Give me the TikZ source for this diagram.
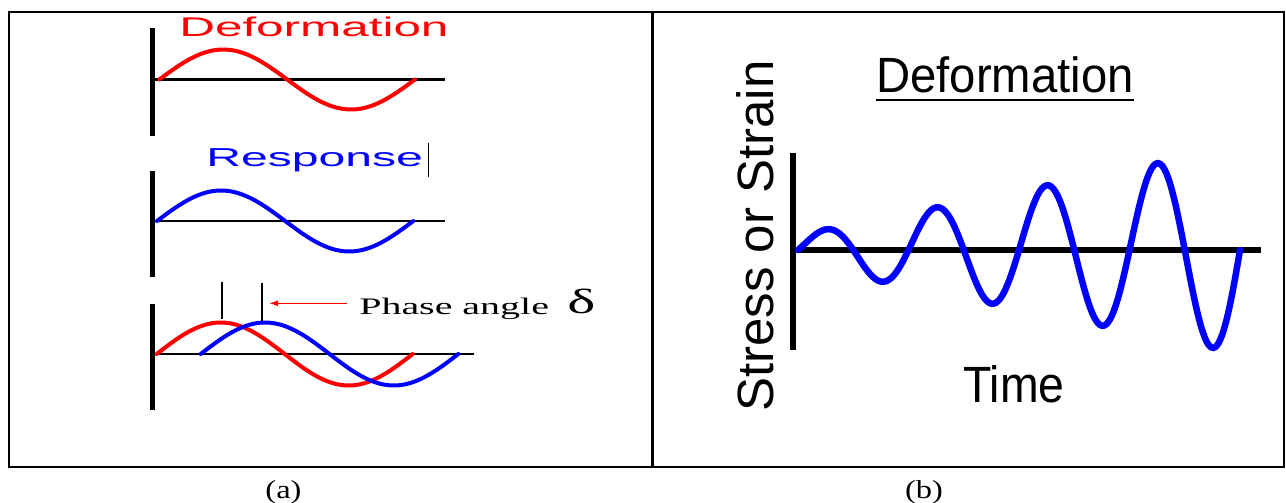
\documentclass[tikz,border=0pt]{standalone}
\usepackage{fontspec}
\usepackage{xcolor}
\usepackage{tikz}
\usetikzlibrary{arrows.meta, positioning, calc}
\newfontfamily\arialfont{Liberation Sans}
\newfontfamily\timesfont{Liberation Serif}
\definecolor{defred}{RGB}{255,0,0}
\definecolor{respblue}{RGB}{0,0,255}
\tikzset{
  lbl/.style={inner sep=0pt, anchor=base west},
  redlbl/.style={lbl, text=defred, xscale=1.83,
    font=\arialfont\fontsize{27}{27}\selectfont},
  bluelbl/.style={lbl, text=respblue, xscale=1.85,
    font=\arialfont\fontsize{26}{26}\selectfont},
  bigsans/.style={lbl, font=\arialfont\fontsize{51}{51}\selectfont},
  caption/.style={inner sep=0pt, anchor=base, xscale=1.25,
    font=\timesfont\fontsize{26}{26}\selectfont},
  frame/.style={line width=2.5pt, black},
  yaxis/.style={line width=5.5pt, black},
  xaxis/.style={line width=2.2pt, black},
  wave/.style={line width=4pt, smooth, samples=70, line cap=round},
  bigaxis/.style={line width=6.5pt, black},
  tick/.style={line width=2pt, black},
  phasearrow/.style={-{Latex[length=9pt, width=6pt]}, line width=1.4pt, color=defred},
}
\begin{document}
\begin{tikzpicture}[x=1pt, y=-1pt]
  \useasboundingbox (0,0) rectangle (1286,503);

  % table frame
  \draw[frame] (9,12) rectangle (1284,467);
  \draw[frame] (652.5,12) -- (652.5,467);
  \node[caption] (capA) at (283.5,498) {(a)};
  \node[caption] (capB) at (924,498) {(b)};

  % (a) axes
  \foreach \top/\mid/\bot/\right in {28/79.5/136/445, 170.7/221/276.7/445, 304/354/410/474} {
    \draw[yaxis] (152.7,\top) -- (152.7,\bot);
    \draw[xaxis] (152.7,\mid) -- (\right,\mid);
  }

  \node[redlbl] (defA) at (179,36.7) {Deformation};
  \draw[wave, defred, domain=159.3:415]
    plot (\x, {79.5 - 30*sin((\x-159.3)/255.7*360)});

  \node[bluelbl] (respA) at (206,166.7) {Response};
  \draw[line width=1pt] (428.3,142.7) -- (428.3,177.3);
  \draw[wave, respblue, domain=157:413.3]
    plot (\x, {221 - 30.5*sin((\x-157)/256.3*360)});

  \draw[wave, defred, domain=156.7:412.7]
    plot (\x, {354 - 31.5*sin((\x-156.7)/256*360)});
  \draw[wave, respblue, domain=200.7:458.3]
    plot (\x, {354 - 31.5*sin((\x-200.7)/257.6*360)});

  \coordinate (tick1) at (222.3,281.7);
  \coordinate (tick2) at (261.7,282.7);
  \draw[tick] (tick1) -- ++(0,37.6);
  \draw[tick] (tick2) -- ++(0,38);
  \node[lbl, xscale=1.685, font=\timesfont\fontsize{23.7}{23.7}\selectfont]
    (phase) at (359,314) {Phase angle};
  \node[lbl, xscale=1.7, font=\timesfont\fontsize{35}{35}\selectfont]
    (delta) at (567,313.3) {δ};
  \coordinate (tail) at (347,303.3);
  \coordinate (tip) at (269,303.3);
  \draw[phasearrow] (tail) -- (tip);

  % (b)
  \node[bigsans, xscale=0.955, font=\arialfont\fontsize{49.5}{49.5}\selectfont]
    (defB) at (876,92.5) {Deformation};
  \draw[line width=2.8pt] ([yshift=-7.5pt]defB.base west) -- ([yshift=-7.5pt]defB.base east);
  \node[bigsans, rotate=90] (stress) at (773,412) {Stress or Strain};
  \node[bigsans, xscale=0.91] (time) at (963,402.7) {Time};

  \draw[bigaxis] (793,153) -- (793,350);
  \draw[bigaxis] (793,250) -- (1261,250);
  \draw[wave, respblue, line width=6.5pt, samples=200, domain=0:442]
    plot ({798+\x}, {250 - (15+0.2*\x)*sin(\x/110.5*360)});
\end{tikzpicture}
\end{document}
